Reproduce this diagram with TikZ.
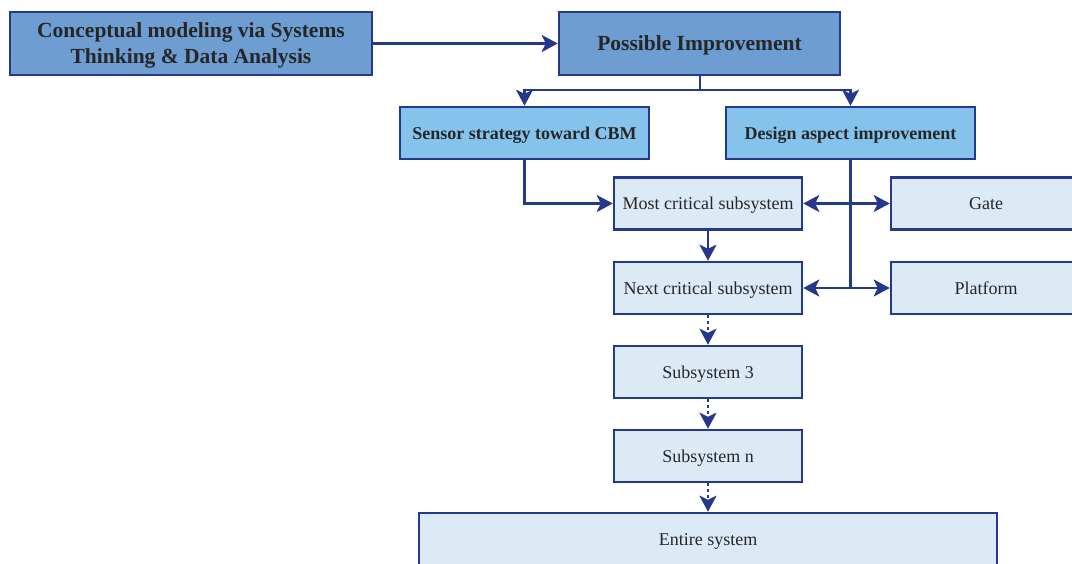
\documentclass[tikz,border=0pt]{standalone}
\usepackage{fontspec}
\setmainfont{Liberation Serif}
\usetikzlibrary{arrows.meta}
\definecolor{navy}{HTML}{25398A}
\definecolor{midblue}{HTML}{6D9DD1}
\definecolor{skyblue}{HTML}{86C3EC}
\definecolor{paleblue}{HTML}{DCEAF6}
\begin{document}
\begin{tikzpicture}[x=1pt,y=-1pt,
  box/.style={draw=navy,line width=2.5pt,inner sep=0pt,align=center,text=black!85,text depth=0pt},
  topbox/.style={box,fill=midblue,font=\fontsize{21.5}{26}\selectfont\bfseries},
  midbox/.style={box,fill=skyblue,font=\fontsize{18}{20}\selectfont\bfseries,minimum width=249pt,minimum height=52pt},
  subbox/.style={box,fill=paleblue,font=\fontsize{18}{20}\selectfont,minimum width=188pt,minimum height=52pt},
  tip/.tip={Stealth[length=16pt,width=17pt,inset=4pt]},
  conn/.style={draw=navy,line width=2.5pt,-tip},
  dconn/.style={conn,dash pattern=on 3pt off 3pt}
]
\useasboundingbox (0,0) rectangle (1072,563);
\clip (0,0) rectangle (1072,563);
\node[topbox,minimum width=362pt,minimum height=63pt] (concept) at (191,43.5) {Conceptual modeling via Systems\\Thinking \& Data Analysis};
\node[topbox,minimum width=281pt,minimum height=63pt] (possible) at (699.5,43.5) {Possible Improvement};
\node[midbox] (sensor) at (524.5,133) {Sensor strategy toward CBM};
\node[midbox] (design) at (850.5,133) {Design aspect improvement};
\node[subbox] (most) at (708,203.5) {Most critical subsystem};
\node[subbox] (next) at (708,288) {Next critical subsystem};
\node[subbox] (sub3) at (708,372) {Subsystem 3};
\node[subbox] (subn) at (708,456) {Subsystem n};
\node[subbox,minimum width=190pt] (gate) at (986,203.5) {Gate};
\node[subbox,minimum width=190pt] (platform) at (986,288) {Platform};
\node[subbox,minimum width=578pt,minimum height=54pt] (entire) at (708,540) {Entire system};

\coordinate (split) at (700,90);
\coordinate (dend) at (design.south |- next.east);

\draw[conn] (concept.east) -- (possible.west);
\draw[draw=navy,line width=2.5pt] (possible.south -| split) -- (split);
\draw[conn] (split) -| (sensor.north);
\draw[conn] (split) -| (design.north);
\draw[conn] (sensor.south) |- (most.west);
\draw[draw=navy,line width=2.5pt] (design.south) -- (dend);
\draw[conn,tip-tip] (most.east) -- (gate.west);
\draw[conn,tip-tip] (next.east) -- (platform.west);
\draw[conn] (most.south) -- (next.north);
\draw[dconn] (next.south) -- (sub3.north);
\draw[dconn] (sub3.south) -- (subn.north);
\draw[dconn] (subn.south) -- (entire.north);
\end{tikzpicture}
\end{document}
